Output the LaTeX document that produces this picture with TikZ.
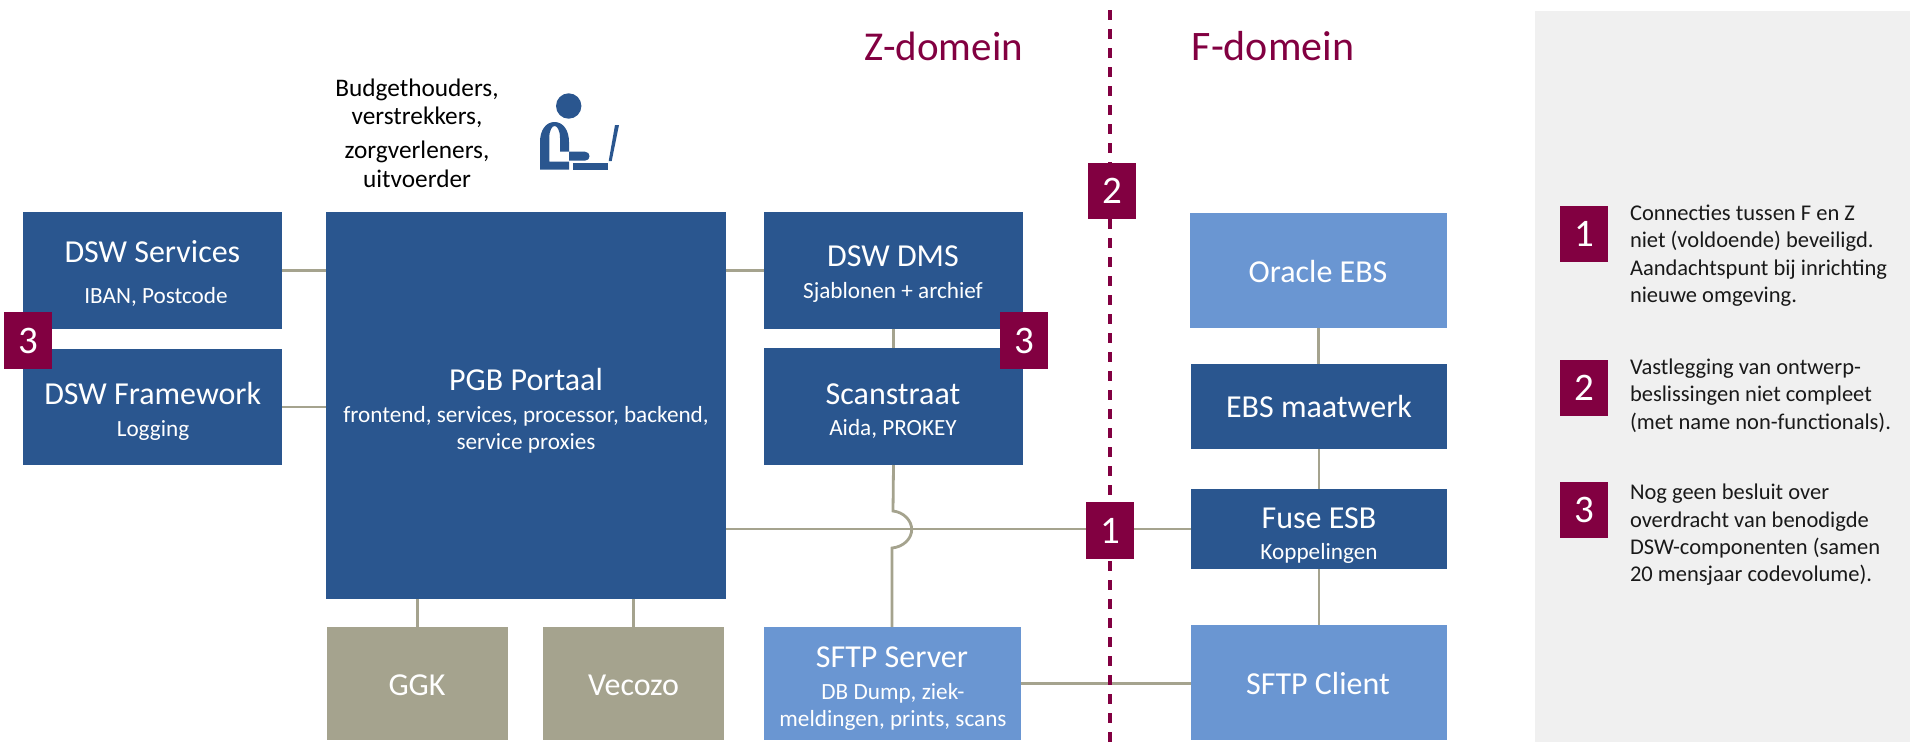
\documentclass[tikz,border=0pt]{standalone}
\usepackage{fontspec}
\setmainfont{Carlito}
\definecolor{dblue}{HTML}{2A568F}
\definecolor{lblue}{HTML}{6A96D2}
\definecolor{khaki}{HTML}{A5A38E}
\definecolor{maroon}{HTML}{820041}
\definecolor{panel}{HTML}{F0F0F0}
\newcommand{\fs}[1]{\fontsize{#1}{#1}\selectfont}
% box: name, style, x1, y1, x2, y2
\newcommand{\mkbox}[6]{\node[#2,minimum width={(#5-#3)*1pt},minimum height={(#6-#4)*1pt}] (#1) at ({(#3+#5)/2},{(#4+#6)/2}) {};}
% text: name, x, baseline y, size, colour, text
\newcommand{\mktxt}[6]{\node[txt,text=#5] (#1) at (#2,#3) {\fs{#4}#6};}
\newcommand{\mkleg}[4]{\node[legtxt] (#1) at (#2,#3) {#4};}
\tikzset{
  every node/.style={inner sep=0pt,outer sep=0pt},
  dbox/.style={rectangle,fill=dblue},
  lbox/.style={rectangle,fill=lblue},
  kbox/.style={rectangle,fill=khaki},
  mbadge/.style={rectangle,fill=maroon,text=white,font=\fs{39}},
  txt/.style={anchor=base},
  legtxt/.style={anchor=base west,font=\fs{22.5},text=black!90},
  conn/.style={draw=khaki,line width=2.8pt},
  divider/.style={draw=maroon,line width=3.2pt,dash pattern=on 10pt off 9pt},
}
\begin{document}
\begin{tikzpicture}[x=1pt,y=-1pt]
\useasboundingbox (0,0) rectangle (1910,742);
\fill[panel] (1535,11) rectangle (1910,742);
% boxes
\mkbox{svc}{dbox}{23}{212}{282}{329}
\mkbox{fwk}{dbox}{23}{349}{282}{465}
\mkbox{pgb}{dbox}{326}{212}{726}{599}
\mkbox{ggk}{kbox}{327}{627}{508}{740}
\mkbox{vec}{kbox}{543}{627}{724}{740}
\mkbox{dms}{dbox}{764}{212}{1023}{329}
\mkbox{scan}{dbox}{764}{348}{1023}{465}
\mkbox{ssrv}{lbox}{764}{627}{1021}{740}
\mkbox{ora}{lbox}{1190}{213}{1447}{328}
\mkbox{ebs}{dbox}{1191}{364}{1447}{449}
\mkbox{fuse}{dbox}{1191}{489}{1447}{569}
\mkbox{scli}{lbox}{1191}{625}{1447}{740}
% connectors
\draw[conn] (svc.east) -- (svc.east -| pgb.west);
\draw[conn] (fwk.east) -- (fwk.east -| pgb.west);
\draw[conn] (dms.west) -- (dms.west -| pgb.east);
\draw[conn] (dms.south) -- (scan.north);
\draw[conn] (ggk.north) -- (ggk.north |- pgb.south);
\draw[conn] (vec.north) -- (vec.north |- pgb.south);
\draw[conn] (fuse.west) -- (fuse.west -| pgb.east);
\draw[conn] (ssrv.east) -- (ssrv.east -| scli.west);
\draw[conn] (ora.south) -- (ora.south |- ebs.north);
\draw[conn] (ebs.south) -- (fuse.north);
\draw[conn] (fuse.south) -- (scli.north);
\coordinate (jtop) at (893,511);
\coordinate (jbot) at (892,548);
\draw[conn] (scan.south) -- (jtop) .. controls (903,512) and (911.7,520) .. (911.7,529.5) .. controls (911.7,539) and (903,547) .. (jbot) -- (jbot |- ssrv.north);
% divider
\coordinate (dtop) at (1110,10);
\coordinate (dbot) at (1110,742);
\draw[divider] (dtop) -- (dbot);
% badges
\node[mbadge,minimum width=48pt,minimum height=56.5pt] (b3a) at (28,340.5) {3};
\node[mbadge,minimum width=48pt,minimum height=56.5pt] (b3b) at (1024,340.5) {3};
\node[mbadge,minimum width=48pt,minimum height=56.5pt] (b2) at (1112,191) {2};
\node[mbadge,minimum width=48pt,minimum height=56.5pt] (b1) at (1110,530.5) {1};
\node[mbadge,minimum width=48pt,minimum height=56pt] (l1) at (1584,234) {1};
\node[mbadge,minimum width=48pt,minimum height=56pt] (l2) at (1584,388) {2};
\node[mbadge,minimum width=48pt,minimum height=56pt] (l3) at (1584,509.5) {3};
% texts
\mktxt{t1}{152.4}{262}{32}{white}{DSW Services}
\mktxt{t2}{156}{303}{23.2}{white}{IBAN, Postcode}
\mktxt{t3}{152.7}{404}{32}{white}{DSW Framework}
\mktxt{t4}{153}{436}{23.2}{white}{Logging}
\mktxt{t5}{526}{390}{32}{white}{PGB Portaal}
\mktxt{t6}{526}{422.6}{23.2}{white}{frontend, services, processor, backend,}
\mktxt{t7}{526}{449}{23.2}{white}{service proxies}
\mktxt{t8}{417}{695}{32}{white}{GGK}
\mktxt{t9}{633.5}{695}{32}{white}{Vecozo}
\mktxt{t10}{893}{266}{32}{white}{DSW DMS}
\mktxt{t11}{893}{298}{23.2}{white}{Sjablonen + archief}
\mktxt{t12}{893}{404}{32}{white}{Scanstraat}
\mktxt{t13}{893}{435}{23.2}{white}{Aida, PROKEY}
\mktxt{t14}{892}{667}{32}{white}{SFTP Server}
\mktxt{t15}{893}{699}{23.2}{white}{DB Dump, ziek-}
\mktxt{t16}{893}{726}{23.2}{white}{meldingen, prints, scans}
\mktxt{t17}{1318}{282}{32}{white}{Oracle EBS}
\mktxt{t18}{1319}{417}{32}{white}{EBS maatwerk}
\mktxt{t19}{1319}{528}{32}{white}{Fuse ESB}
\mktxt{t20}{1319}{559}{23.2}{white}{Koppelingen}
\mktxt{t21}{1318}{694}{32}{white}{SFTP Client}
\mktxt{z}{944}{60}{41}{maroon}{Z-domein}
\mktxt{f}{1273}{60}{42}{maroon}{F-domein}
\mktxt{u1}{417}{96}{25.3}{black}{Budgethouders,}
\mktxt{u2}{417}{124}{25.3}{black}{verstrekkers,}
\mktxt{u3}{417}{158}{25.3}{black}{zorgverleners,}
\mktxt{u4}{417}{187}{25.3}{black}{uitvoerder}
% icon
\fill[dblue] (568.7,106) circle (12.7);
\fill[dblue] (540,169.5) -- (540,142) .. controls (540,130) and (546,122) .. (554.5,122) .. controls (563,122) and (569,130) .. (569,142) -- (569,151.7) -- (560,151.7) -- (560,138) .. controls (560,130) and (557,126) .. (554.7,126) .. controls (552,126) and (549.3,130) .. (549.3,138) -- (549.3,161.7) -- (569,161.7) -- (569,169.5) -- cycle;
\fill[dblue] (569,151.7) -- (585,151.7) .. controls (591,151.7) and (591,160.7) .. (585,160.7) -- (569,160.7) -- cycle;
\fill[dblue] (572.7,162.7) rectangle (608,170);
\fill[dblue] (615,125) -- (619,125) -- (611.7,161) -- (608.7,161) -- cycle;
% legend
\mkleg{a1}{1630}{220}{Connecties tussen F en Z}
\mkleg{a2}{1630}{247.5}{niet (voldoende) beveiligd.}
\mkleg{a3}{1630}{275}{Aandachtspunt bij inrichting}
\mkleg{a4}{1630}{302.5}{nieuwe omgeving.}
\mkleg{c1}{1630}{374}{Vastlegging van ontwerp-}
\mkleg{c2}{1630}{401.5}{beslissingen niet compleet}
\mkleg{c3}{1630}{429}{(met name non-functionals).}
\mkleg{d1}{1630}{499}{Nog geen besluit over}
\mkleg{d2}{1630}{527}{overdracht van benodigde}
\mkleg{d3}{1630}{554}{DSW-componenten (samen}
\mkleg{d4}{1630}{581}{20 mensjaar codevolume).}
\end{tikzpicture}
\end{document}
